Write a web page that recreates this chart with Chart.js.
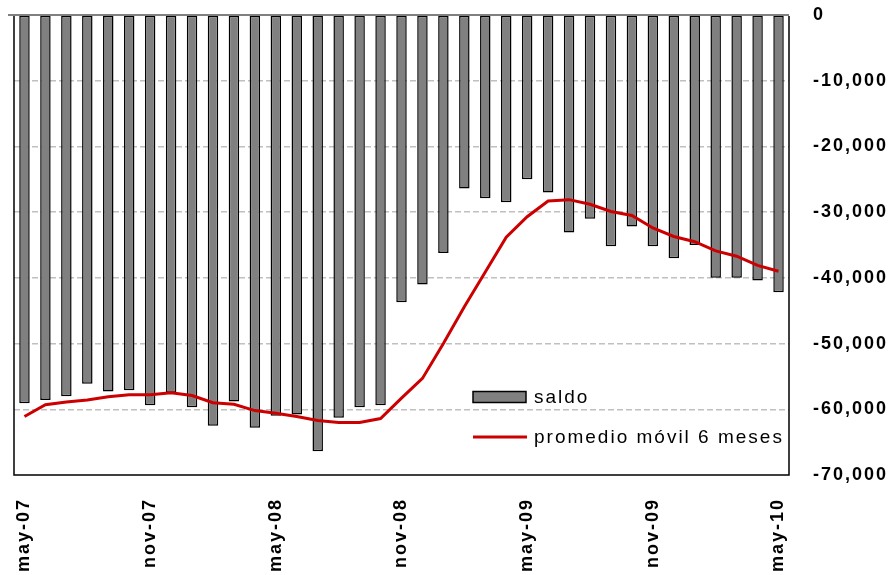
<!DOCTYPE html>
<html>
<head>
<meta charset="utf-8">
<script src="https://cdn.jsdelivr.net/npm/chart.js@4.4.1/dist/chart.umd.min.js"></script>
<style>
    html, body { margin: 0; padding: 0; background: #fff; }
    #wrap { width: 893px; height: 575px; position: relative; }
</style>
</head>
<body>
<div id="wrap"><canvas id="saldoChart"></canvas></div>
<script>
        const months = [
            'may-07', 'jun-07', 'jul-07', 'ago-07', 'sep-07', 'oct-07', 'nov-07', 'dic-07',
            'ene-08', 'feb-08', 'mar-08', 'abr-08', 'may-08', 'jun-08', 'jul-08', 'ago-08',
            'sep-08', 'oct-08', 'nov-08', 'dic-08', 'ene-09', 'feb-09', 'mar-09', 'abr-09',
            'may-09', 'jun-09', 'jul-09', 'ago-09', 'sep-09', 'oct-09', 'nov-09', 'dic-09',
            'ene-10', 'feb-10', 'mar-10', 'abr-10', 'may-10'
        ];

        const saldo = [
            -59100, -58600, -58000, -56100, -57300, -57100, -59400, -57500,
            -59700, -62500, -58800, -62800, -61000, -60800, -66400, -61300,
            -59700, -59400, -43700, -41000, -36200, -26400, -27900, -28500,
            -25000, -27000, -33100, -31000, -35200, -32200, -35200, -37000,
            -35000, -40000, -40000, -40400, -42200
        ];

        const promedio = [
            -61100, -59300, -58900, -58600, -58100, -57800, -57800, -57500,
            -57900, -59000, -59250, -60200, -60600, -61100, -61700, -62000,
            -62000, -61400, -58300, -55300, -50000, -44400, -39100, -33800,
            -30700, -28300, -28100, -28800, -29900, -30500, -32400, -33700,
            -34500, -35900, -36700, -38100, -39000
        ];

        const yTicks = [0, -10000, -20000, -30000, -40000, -50000, -60000, -70000];
        const legendLabels = ['saldo', 'promedio móvil 6 meses'];

        const fontFamily = '"Liberation Sans", Arial, sans-serif';
        const barColor = '#808080';
        const lineColor = '#cc0000';

        // frame, zero line and the floating legend inside the plot
        const framePlugin = {
            id: 'frame',
            beforeLayout(chart) { chart.ctx.letterSpacing = '2px'; },
            beforeDraw(chart) { chart.ctx.letterSpacing = '2px'; },
            afterDatasetsDraw(chart) {
                const { ctx, chartArea: a } = chart;
                ctx.save();
                ctx.strokeStyle = '#808080';
                ctx.lineWidth = 2;
                ctx.beginPath();
                ctx.moveTo(a.left - 6, a.top);
                ctx.lineTo(a.right, a.top);
                ctx.stroke();
                ctx.strokeStyle = '#000';
                ctx.lineWidth = 1.5;
                ctx.beginPath();
                ctx.moveTo(a.left, a.top + 1);
                ctx.lineTo(a.left, a.bottom);
                ctx.lineTo(a.right, a.bottom);
                ctx.lineTo(a.right, a.top + 1);
                ctx.stroke();
                ctx.restore();
            },
            afterDraw(chart) {
                const { ctx, chartArea: a } = chart;
                const lx = a.right - 316;
                const rows = [a.bottom - 78, a.bottom - 38];
                ctx.save();
                ctx.letterSpacing = '2px';
                ctx.font = '19px ' + fontFamily;
                ctx.textBaseline = 'middle';
                ctx.textAlign = 'left';
                chart.data.datasets.forEach((ds, i) => {
                    const y = rows[i];
                    if (ds.type === 'line') {
                        ctx.strokeStyle = ds.borderColor;
                        ctx.lineWidth = 3;
                        ctx.beginPath();
                        ctx.moveTo(lx, y);
                        ctx.lineTo(lx + 54, y);
                        ctx.stroke();
                    } else {
                        ctx.fillStyle = ds.backgroundColor;
                        ctx.fillRect(lx, y - 5.5, 53, 11);
                        ctx.strokeStyle = '#000';
                        ctx.lineWidth = 1.5;
                        ctx.strokeRect(lx, y - 5.5, 53, 11);
                    }
                    ctx.fillStyle = '#000';
                    ctx.fillText(ds.label, lx + 61, y + 1);
                });
                ctx.restore();
            }
        };

        new Chart(document.getElementById('saldoChart'), {
            data: {
                labels: months,
                datasets: [{
                    type: 'bar',
                    label: legendLabels[0],
                    data: saldo,
                    backgroundColor: barColor,
                    borderColor: '#000',
                    borderWidth: 1.5,
                    borderSkipped: false,
                    categoryPercentage: 1,
                    barPercentage: 0.5,
                    order: 1
                }, {
                    type: 'line',
                    label: legendLabels[1],
                    data: promedio,
                    borderColor: lineColor,
                    borderWidth: 3,
                    pointRadius: 0,
                    tension: 0,
                    fill: false,
                    order: 0
                }]
            },
            options: {
                responsive: true,
                maintainAspectRatio: false,
                animation: false,
                layout: {
                    padding: { left: 14, top: 15, right: 0, bottom: 0 }
                },
                plugins: {
                    legend: { display: false },
                    tooltip: { enabled: false }
                },
                scales: {
                    x: {
                        offset: true,
                        grid: { display: false, drawTicks: false },
                        border: { display: false },
                        afterFit: s => { s.height = 100; },
                        ticks: {
                            autoSkip: false,
                            minRotation: 90,
                            maxRotation: 90,
                            padding: 23,
                            color: '#000',
                            font: { family: fontFamily, size: 18, weight: 'bold' },
                            callback: (v, i) => (i % 6 === 0 ? months[i] : '')
                        }
                    },
                    y: {
                        position: 'right',
                        min: -70000,
                        max: 0,
                        afterBuildTicks: s => { s.ticks = yTicks.map(v => ({ value: v })); },
                        afterFit: s => {
                            s.width = 104;
                            s.paddingTop = 10;
                            s.paddingBottom = 10;
                        },
                        grid: {
                            drawTicks: false,
                            lineWidth: 1.5,
                            color: ctx => (ctx.tick && (ctx.tick.value === 0 || ctx.tick.value === -70000)) ? 'rgba(0,0,0,0)' : '#c0c0c0'
                        },
                        border: { display: false, dash: [6, 3] },
                        ticks: {
                            padding: 24,
                            color: '#000',
                            font: { family: fontFamily, size: 18, weight: 'bold' },
                            callback: v => v.toLocaleString('en-US')
                        }
                    }
                }
            },
            plugins: [framePlugin]
        });
</script>
</body>
</html>
